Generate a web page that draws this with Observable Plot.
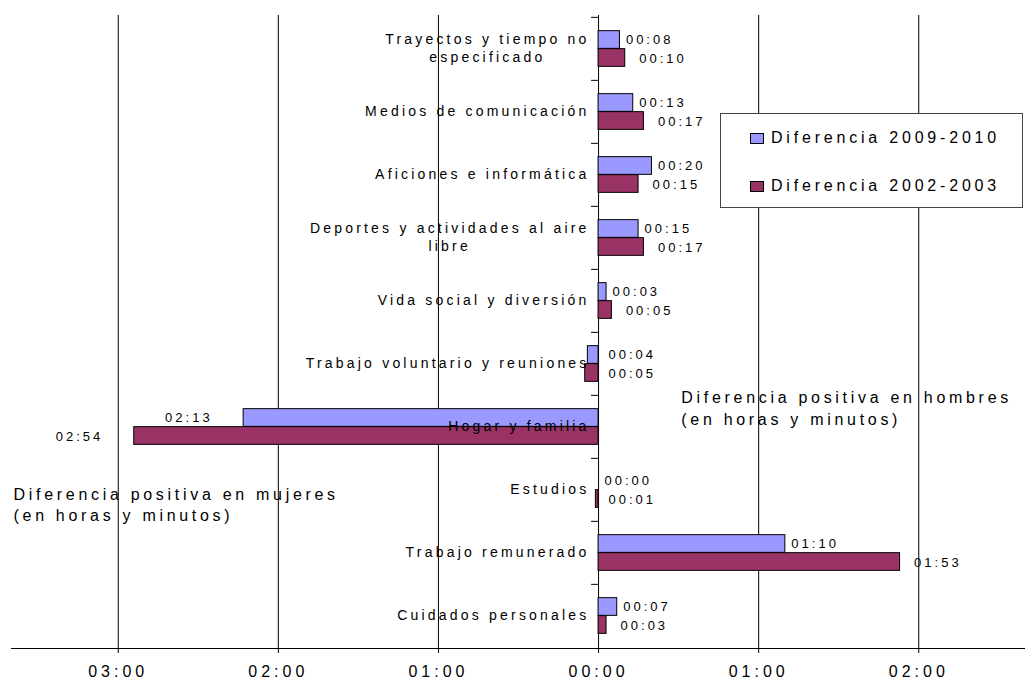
<!DOCTYPE html>
<html>
<head>
<meta charset="utf-8">
<script src="https://cdn.jsdelivr.net/npm/d3@7"></script>
<script src="https://cdn.jsdelivr.net/npm/@observablehq/plot@0.6"></script>
<style>
  html, body { margin: 0; padding: 0; background: #fff; }
  #wrap { position: relative; width: 1025px; height: 679px; font-family: 'Liberation Sans', Arial, sans-serif; color: #000; }
  #wrap svg { position: absolute; left: 0; top: 0; }
  g[aria-label="x-axis tick label"] text { letter-spacing: 4px; }
  #legend { position: absolute; left: 720px; top: 113px; width: 303px; height: 95px; box-sizing: border-box;
            border: 1px solid #444; background: #fff; }
  .lrow { position: absolute; left: 29px; height: 20px; display: flex; align-items: center; font-size: 16px; letter-spacing: 3.8px; white-space: nowrap; }
  .lsw { width: 14px; height: 11px; box-sizing: border-box; border: 1px solid #000; margin-right: 7px; }
</style>
</head>
<body>
<div id="wrap"><div id="legend"></div></div>
<script>
// ---- data ----
const categories = [
  "Trayectos y tiempo no especificado",
  "Medios de comunicación",
  "Aficiones e informática",
  "Deportes y actividades al aire libre",
  "Vida social y diversión",
  "Trabajo voluntario y reuniones",
  "Hogar y familia",
  "Estudios",
  "Trabajo remunerado",
  "Cuidados personales"
];
const categoryLabels = [
  "Trayectos y tiempo no\nespecificado",
  "Medios de comunicación",
  "Aficiones e informática",
  "Deportes y actividades al aire\nlibre",
  "Vida social y diversión",
  "Trabajo voluntario y reuniones",
  "Hogar y familia",
  "Estudios",
  "Trabajo remunerado",
  "Cuidados personales"
];
const seriesNames = ["Diferencia 2009-2010", "Diferencia 2002-2003"];
const seriesColors = ["#9999FF", "#993366"];
// minutes; positive = men spend more, negative = women spend more
const diff2009 = [8, 13, 20, 15, 3, -4, -133, 0, 70, 7];
const diff2002 = [10, 17, 15, 17, 5, -5, -174, -1, 113, 3];
const xTicks = [-180, -120, -60, 0, 60, 120];
const womenNote = "Diferencia positiva en mujeres\n(en horas y minutos)";
const menNote = "Diferencia positiva en hombres\n(en horas y minutos)";

const rows = categories.flatMap((c, i) => [
  {category: c, series: seriesNames[0], value: diff2009[i]},
  {category: c, series: seriesNames[1], value: diff2002[i]}
]);

const fmt = m => {
  const a = Math.abs(Math.round(m));
  return String(Math.floor(a / 60)).padStart(2, "0") + ":" + String(a % 60).padStart(2, "0");
};

const W = 1025, H = 679, mT = 15, mB = 31, mL = 11, mR = 0;
const bandH = (H - mT - mB) / categories.length;
const barH = 18;
const topInset = bandH / 2 - barH;

const barMarks = [], valueMarks = [];
seriesNames.forEach((s, k) => {
  const sub = rows.filter(d => d.series === s);
  const insetTop = k === 0 ? topInset : bandH / 2;
  const insetBottom = k === 0 ? bandH / 2 : topInset;
  const dy = k === 0 ? -barH / 2 : barH / 2 + 1;
  const dxPos = k === 0 ? 6 : 14;
  barMarks.push(Plot.barX(sub, {x: "value", y: "category", fill: seriesColors[k], stroke: "#000", strokeWidth: 1,
    insetTop, insetBottom}));
  valueMarks.push(
    Plot.text(sub.filter(d => d.value >= 0), {
      x: "value", y: "category", text: d => fmt(d.value),
      textAnchor: "start", dx: dxPos, dy, fontSize: 13, fill: "#000"
    }),
    Plot.text(sub.filter(d => d.value < 0 && d.value >= -30), {
      x: () => 0, y: "category", text: d => fmt(d.value),
      textAnchor: "start", dx: 10, dy, fontSize: 13, fill: "#000"
    }),
    Plot.text(sub.filter(d => d.value < -30), {
      x: "value", y: "category", text: d => fmt(d.value),
      textAnchor: "end", dx: -31, dy, fontSize: 13, fill: "#000"
    })
  );
});

const chart = Plot.plot({
  width: W, height: H,
  marginTop: mT, marginBottom: mB, marginLeft: mL, marginRight: mR,
  style: {fontFamily: "'Liberation Sans', Arial, sans-serif", fontSize: "14px", color: "#000", background: "transparent"},
  x: {domain: [-220, 160]},
  y: {domain: categories, padding: 0, axis: null},
  marks: [
    Plot.ruleX(xTicks, {stroke: "#000", strokeWidth: 1}),
    ...barMarks,
    Plot.ruleY(categories, {y: d => d, x1: () => 0, x2: () => 0, insetLeft: -7, dy: -bandH / 2, stroke: "#000"}),
    Plot.frame({anchor: "bottom", stroke: "#000"}),
    Plot.axisX({ticks: xTicks, tickFormat: fmt, tickSize: 5, tickPadding: 12, fontSize: 16, stroke: "#000", fill: "#000", label: null}),
    ...valueMarks,
    Plot.text(categories, {x: () => 0, y: d => d, text: (d, i) => categoryLabels[i], textAnchor: "end",
      dx: -9, dy: -1.5, fontSize: 14, lineHeight: 1.22, fill: "#000"}),
    Plot.text([womenNote], {text: d => d, frameAnchor: "left", y: () => "Estudios", dx: 2, dy: 14,
      textAnchor: "start", fontSize: 16, lineHeight: 1.3, fill: "#000"}),
    Plot.text([menNote], {text: d => d, x: () => 31, y: () => "Hogar y familia", dy: -20,
      textAnchor: "start", fontSize: 16, lineHeight: 1.4, fill: "#000"})
  ]
});

const wrap = document.getElementById("wrap");
wrap.prepend(chart);

// letter spacing (Excel-like wide tracking) and centering of wrapped category labels
const flat = s => s.replace(/\n/g, "");
const catSet = new Set(categoryLabels.map(flat));
const noteSet = new Set([womenNote, menNote].map(flat));
const valSet = new Set([...diff2009, ...diff2002].map(fmt));
chart.querySelectorAll("text").forEach(t => {
  if (t.closest('g[aria-label="x-axis tick label"]')) return;
  const c = t.textContent;
  if (catSet.has(c)) {
    t.style.letterSpacing = "3.2px";
    const ts = [...t.querySelectorAll("tspan")];
    if (ts.length > 1) {
      const w = Math.max(...ts.map(s => s.getComputedTextLength()));
      t.setAttribute("text-anchor", "middle");
      ts.forEach(s => s.setAttribute("x", (parseFloat(s.getAttribute("x")) || 0) - w / 2));
    }
  } else if (noteSet.has(c)) {
    t.style.letterSpacing = "3.7px";
  } else if (valSet.has(c)) {
    t.style.letterSpacing = "3px";
  }
});

// legend
const legend = document.getElementById("legend");
const rowCenters = [24, 72];
seriesNames.forEach((s, k) => {
  const r = document.createElement("div");
  r.className = "lrow";
  r.style.top = (rowCenters[k] - 10) + "px";
  const sw = document.createElement("div");
  sw.className = "lsw";
  sw.style.background = seriesColors[k];
  const tx = document.createElement("span");
  tx.textContent = s;
  r.append(sw, tx);
  legend.append(r);
});
</script>
</body>
</html>
